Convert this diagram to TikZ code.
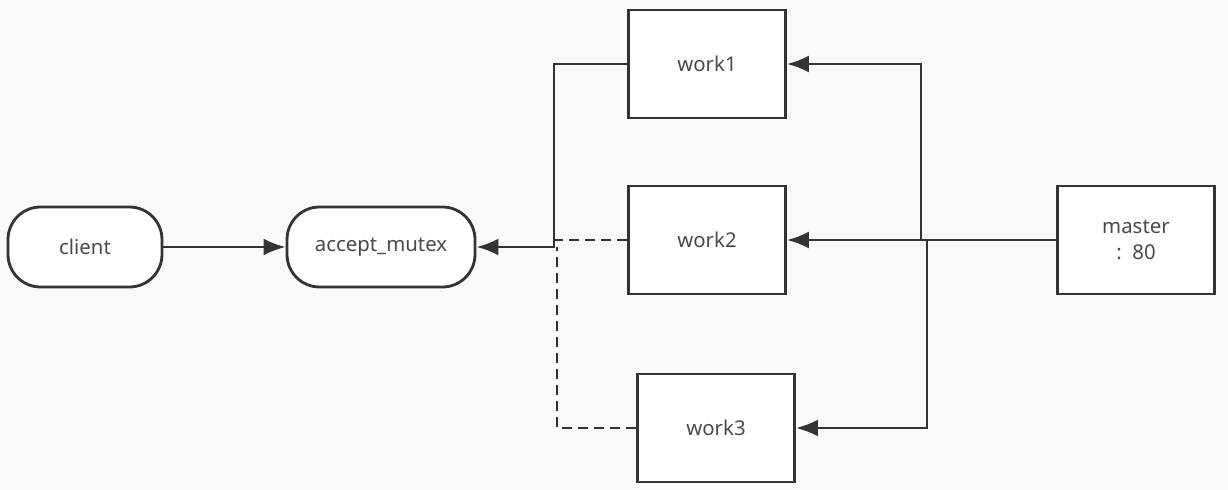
\documentclass[tikz,border=0pt]{standalone}
\usepackage{fontspec}
\setmainfont{Noto Sans}
\usepackage{tikz}
\usetikzlibrary{arrows.meta,positioning}
\definecolor{bgcol}{HTML}{F9F9F9}
\definecolor{linecol}{HTML}{333333}
\definecolor{textcol}{HTML}{4A4A4A}

\begin{document}
\begin{tikzpicture}[
    x=0.02cm, y=-0.02cm,
    >={Latex[length=4.4mm,width=3.4mm]},
    font=\fontsize{11.6}{14}\selectfont,
    worker/.style={
		rectangle,
		draw=linecol,
		line width=1.6pt,
		fill=white,
		text=textcol,
		align=center,
		minimum width=3.14cm,
		minimum height=2.16cm
	},
    term/.style={
		rectangle,
		rounded corners=0.65cm,
		draw=linecol,
		line width=1.6pt,
		fill=white,
		text=textcol,
		minimum height=1.6cm
	},
    link/.style={
		draw=linecol,
		line width=1.6pt
	},
    dashlink/.style={
		link,
		dash pattern=on 0.2cm off 0.12cm
	}
  ]
  % canvas
  \fill [bgcol] (0,0) rectangle (1228,490);
  \useasboundingbox (0,0) rectangle (1228,490);

  % blocks
  \node [term, minimum width=3.08cm] (client) at (85,247) {client};
  \node [term, minimum width=3.76cm] (mutex) at (381,247) {accept\_mutex};

  \node [worker] (work1) at (707,64) {work1};
  \node [worker] (work2) at (707,240) {work2};
  \node [worker] (work3) at (716,428) {work3};
  \node [worker] (master) at (1136,240) {master\\[1pt]:\ \ 80};

  % joints
  \coordinate (up) at (921,240);
  \coordinate (down) at (927,240);
  \coordinate (bend) at (554,247);
  \coordinate (bend3) at (557,247);

  % connectors
  \draw [link,->] (client) -- (mutex);
  \draw [link,->] (master) -- (work2);
  \draw [link,->] (up) |- (work1);
  \draw [link,->] (down) |- (work3);
  \draw [link,->] (work1) -| (bend) -- (mutex);
  \draw [dashlink] (work2) -- (work2 -| bend);
  \draw [dashlink] (work3) -| (bend3);

\end{tikzpicture}
\end{document}
